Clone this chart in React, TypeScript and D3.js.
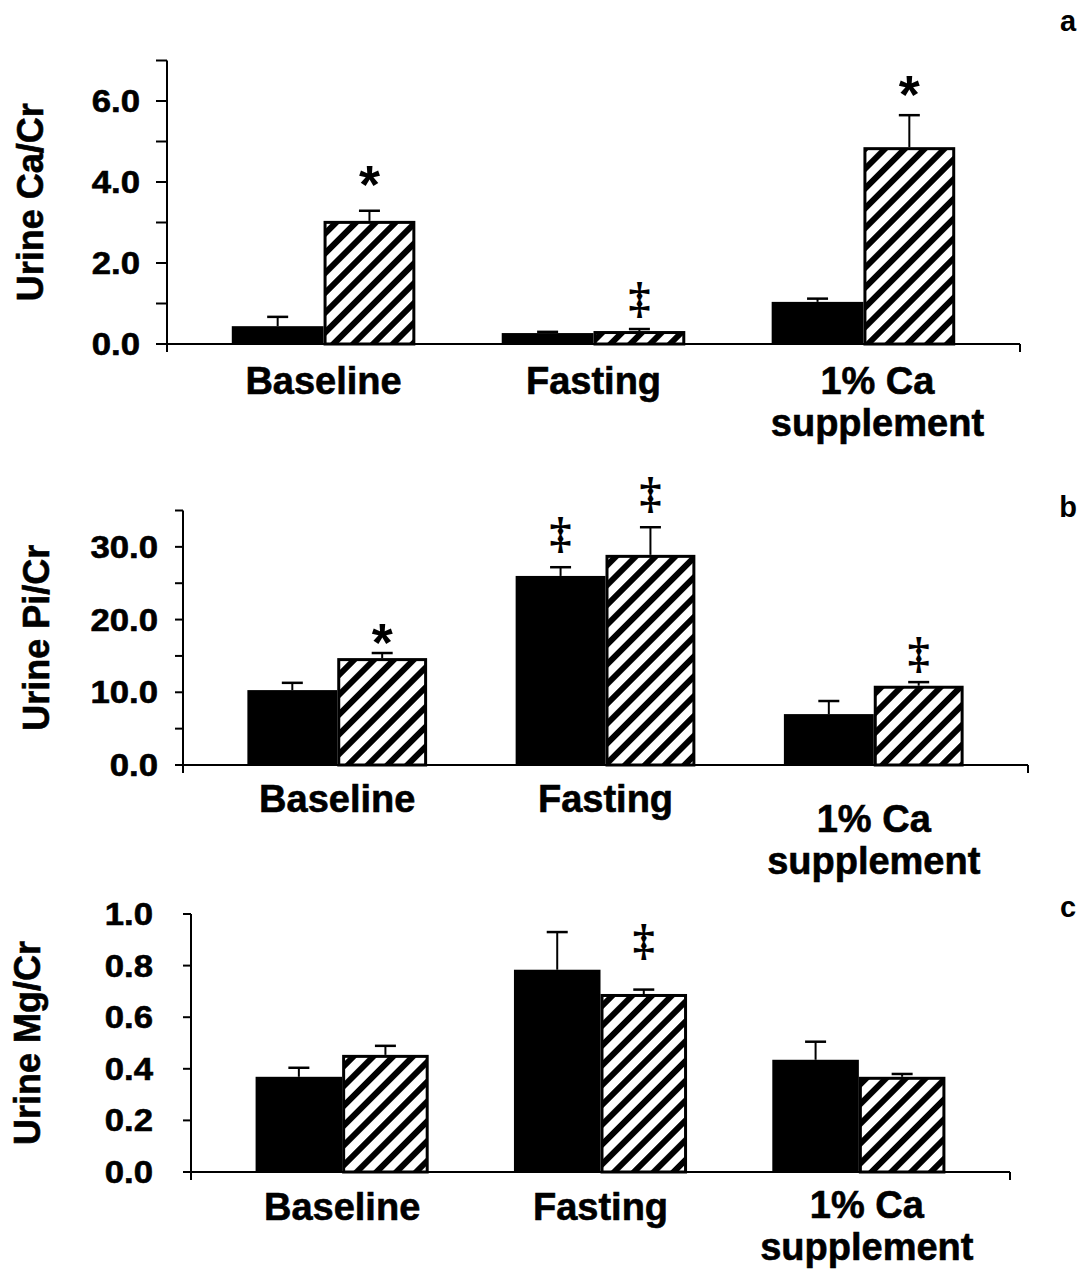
import React from 'react';
import * as d3 from 'd3';

// categories and series
const categories = ['Baseline', 'Fasting', '1% Ca supplement'];
const series = ['solid', 'hatched'];

// panel a: urine Ca/Cr
const caSolid = [0.44, 0.27, 1.04];
const caSolidErr = [0.23, 0.03, 0.08];
const caHatched = [3.04, 0.32, 4.86];
const caHatchedErr = [0.25, 0.05, 0.79];
const caTicks = [0, 1, 2, 3, 4, 5, 6, 7];
const caLabelled = [0, 2, 4, 6];
const caMarks = [
  { cat: 'Baseline', s: 1, mark: '*', at: 4.12 },
  { cat: 'Fasting', s: 1, mark: '‡', at: 1.09 },
  { cat: '1% Ca supplement', s: 1, mark: '*', at: 6.35 },
];

// panel b: urine Pi/Cr
const piSolid = [10.3, 26.0, 7.0];
const piSolidErr = [1.0, 1.2, 1.8];
const piHatched = [14.7, 28.9, 10.9];
const piHatchedErr = [0.7, 3.8, 0.5];
const piTicks = [0, 5, 10, 15, 20, 25, 30, 35];
const piLabelled = [0, 10, 20, 30];
const piMarks = [
  { cat: 'Baseline', s: 1, mark: '*', at: 17.9 },
  { cat: 'Fasting', s: 0, mark: '‡', at: 31.6 },
  { cat: 'Fasting', s: 1, mark: '‡', at: 37.1 },
  { cat: '1% Ca supplement', s: 1, mark: '‡', at: 15.1 },
];

// panel c: urine Mg/Cr
const mgSolid = [0.369, 0.784, 0.435];
const mgSolidErr = [0.035, 0.146, 0.07];
const mgHatched = [0.454, 0.69, 0.369];
const mgHatchedErr = [0.035, 0.017, 0.011];
const mgTicks = [0, 0.2, 0.4, 0.6, 0.8, 1.0];
const mgLabelled = [0, 0.2, 0.4, 0.6, 0.8, 1.0];
const mgMarks = [{ cat: 'Fasting', s: 1, mark: '‡', at: 0.893 }];

const FONT = 'Liberation Sans, Arial, Helvetica, sans-serif';
const fmt = d3.format('.1f');

type Mark = { cat: string; s: number; mark: string; at: number };

type PanelProps = {
  letter: string;
  title: string;
  solid: number[];
  solidErr: number[];
  hatched: number[];
  hatchedErr: number[];
  ticks: number[];
  labelled: number[];
  marks: Mark[];
  max: number;
  x0: number;
  x1: number;
  yBase: number;
  yTop: number;
  padIn: number;
  padOut: number;
  tickLen: number;
  labelGap: number;
  titleX: number;
  catDy: number;
  wrapDx: number;
  wrapDy: number;
  letterY: number;
};

function Panel(p: PanelProps) {
  const x = d3.scaleBand<string>().domain(categories).range([p.x0, p.x1]).paddingInner(p.padIn).paddingOuter(p.padOut);
  const xs = d3.scaleBand<string>().domain(series).range([0, x.bandwidth()]);
  const y = d3.scaleLinear().domain([0, p.max]).range([p.yBase, p.yTop]);
  const values = [p.solid, p.hatched];
  const errs = [p.solidErr, p.hatchedErr];
  const capW = 21;

  return (
    <g>
      {/* bars */}
      {categories.map((c, i) =>
        series.map((s, j) => {
          const bx = (x(c) as number) + (xs(s) as number);
          const v = values[j][i];
          const top = y(v);
          const cx = bx + xs.bandwidth() / 2;
          const et = y(v + errs[j][i]);
          return (
            <g key={c + s}>
              <line x1={cx} x2={cx} y1={top} y2={et} stroke="#000" strokeWidth={2} />
              <line x1={cx - capW / 2} x2={cx + capW / 2} y1={et} y2={et} stroke="#000" strokeWidth={2.5} />
              {j === 0 ? (
                <rect x={bx} y={top} width={xs.bandwidth()} height={p.yBase - top} fill="#000" />
              ) : (
                <rect
                  x={bx + 1.5}
                  y={top + 1.5}
                  width={xs.bandwidth() - 3}
                  height={Math.max(0, p.yBase - top - 1.5)}
                  fill="url(#hatch)"
                  stroke="#000"
                  strokeWidth={3}
                />
              )}
            </g>
          );
        })
      )}

      {/* axes */}
      <line x1={p.x0 - p.tickLen} x2={p.x1} y1={p.yBase} y2={p.yBase} stroke="#000" strokeWidth={2} />
      <line x1={p.x1} x2={p.x1} y1={p.yBase} y2={p.yBase + 8} stroke="#000" strokeWidth={2} />
      <line x1={p.x0} x2={p.x0} y1={p.yTop} y2={p.yBase + 8} stroke="#000" strokeWidth={2} />
      {p.ticks.map((t) => (
        <line key={t} x1={p.x0 - p.tickLen} x2={p.x0} y1={y(t)} y2={y(t)} stroke="#000" strokeWidth={2} />
      ))}
      {p.labelled.map((t) => (
        <text
          key={t}
          transform={`translate(${p.x0 - p.tickLen - p.labelGap},${y(t) + 11}) scale(1.12,1)`}
          textAnchor="end"
          fontFamily={FONT}
          fontWeight="bold"
          fontSize={31}
          stroke="#000"
          strokeWidth={0.6}
        >
          {fmt(t)}
        </text>
      ))}
      <text
        transform={`translate(${p.titleX},${(p.yBase + p.yTop) / 2}) rotate(-90)`}
        textAnchor="middle"
        fontFamily={FONT}
        fontWeight="bold"
        fontSize={36}
        stroke="#000"
        strokeWidth={0.6}
      >
        {p.title}
      </text>

      {/* category labels */}
      {categories.map((c) => {
        const words = c === '1% Ca supplement' ? ['1% Ca', 'supplement'] : [c];
        const cx = (x(c) as number) + x.bandwidth() / 2 + (words.length > 1 ? p.wrapDx : 0);
        const dy0 = words.length > 1 ? p.wrapDy : 0;
        return (
          <text key={c} textAnchor="middle" fontFamily={FONT} fontWeight="bold" fontSize={38} stroke="#000" strokeWidth={0.6}>
            {words.map((w, k) => (
              <tspan key={w} x={cx} y={p.yBase + p.catDy + dy0 + k * 42}>
                {w}
              </tspan>
            ))}
          </text>
        );
      })}

      {/* significance marks */}
      {p.marks.map((m, k) => {
        const cx = (x(m.cat) as number) + (xs(series[m.s]) as number) + xs.bandwidth() / 2;
        const star = m.mark === '*';
        return (
          <text
            key={k}
            x={cx}
            y={y(m.at) + (star ? 26 : 13)}
            textAnchor="middle"
            fontFamily={star ? FONT : 'Liberation Serif, Times New Roman, serif'}
            fontWeight="bold"
            fontSize={star ? 54 : 44}
          >
            {m.mark}
          </text>
        );
      })}

      <text x={1068} y={p.letterY} textAnchor="middle" fontFamily={FONT} fontWeight="bold" fontSize={29}>
        {p.letter}
      </text>
    </g>
  );
}

export default function App() {
  return (
    <svg width={1091} height={1271} style={{ position: 'absolute', left: 0, top: 0, background: '#fff' }}>
      <defs>
        <pattern id="hatch" patternUnits="userSpaceOnUse" width={14} height={14} patternTransform="rotate(45)">
          <rect width={14} height={14} fill="#fff" />
          <rect x={0} y={0} width={6} height={14} fill="#000" />
        </pattern>
      </defs>
      <rect width={1091} height={1271} fill="#fff" />
      <Panel
        letter="a"
        title="Urine Ca/Cr"
        solid={caSolid}
        solidErr={caSolidErr}
        hatched={caHatched}
        hatchedErr={caHatchedErr}
        ticks={caTicks}
        labelled={caLabelled}
        marks={caMarks}
        max={7}
        x0={167}
        x1={1020}
        yBase={344}
        yTop={60.5}
        padIn={0.32}
        padOut={0.24}
        tickLen={11}
        labelGap={16}
        titleX={43}
        catDy={50}
        wrapDx={14}
        wrapDy={0}
        letterY={31}
      />
      <Panel
        letter="b"
        title="Urine Pi/Cr"
        solid={piSolid}
        solidErr={piSolidErr}
        hatched={piHatched}
        hatchedErr={piHatchedErr}
        ticks={piTicks}
        labelled={piLabelled}
        marks={piMarks}
        max={35}
        x0={183}
        x1={1028}
        yBase={765}
        yTop={510.5}
        padIn={0.33}
        padOut={0.24}
        tickLen={8}
        labelGap={17}
        titleX={49}
        catDy={47}
        wrapDx={0}
        wrapDy={20}
        letterY={517}
      />
      <Panel
        letter="c"
        title="Urine Mg/Cr"
        solid={mgSolid}
        solidErr={mgSolidErr}
        hatched={mgHatched}
        hatchedErr={mgHatchedErr}
        ticks={mgTicks}
        labelled={mgLabelled}
        marks={mgMarks}
        max={1}
        x0={191}
        x1={1010}
        yBase={1172}
        yTop={914}
        padIn={0.33}
        padOut={0.25}
        tickLen={8}
        labelGap={30}
        titleX={40}
        catDy={48}
        wrapDx={8}
        wrapDy={-2}
        letterY={917}
      />
    </svg>
  );
}
